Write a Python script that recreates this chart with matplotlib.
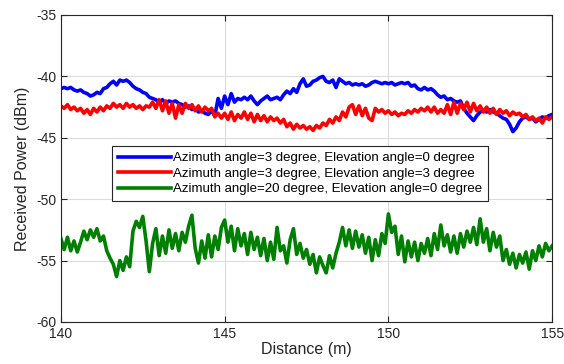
import numpy as np
import matplotlib
matplotlib.use("Agg")
import matplotlib.pyplot as plt

# Received power traces, sampled every 0.1 m from 140 m to 155 m.
az3_el0 = [
    -41.0, -40.9, -41.0, -40.9, -41.1, -41.2, -41.1, -41.3, -41.4, -41.6,
    -41.5, -41.3, -41.4, -41.0, -40.9, -40.6, -40.4, -40.7, -40.3, -40.4,
    -40.3, -40.5, -40.8, -41.0, -41.1, -41.3, -41.4, -41.7, -41.8, -41.9,
    -42.1, -41.9, -42.2, -42.0, -42.1, -42.0, -42.2, -42.3, -42.5, -42.4,
    -42.7, -42.6, -42.9, -42.8, -43.0, -43.1, -42.8, -43.2, -41.8, -42.6,
    -41.6, -42.3, -41.4, -42.1, -41.8, -41.9, -41.7, -41.9, -41.6, -42.0,
    -42.3, -42.0, -41.8, -41.6, -41.9, -41.8, -41.7, -41.9, -41.5, -41.2,
    -41.4, -41.0, -41.3, -40.6, -40.2, -40.8, -40.7, -40.4, -40.3, -40.1,
    -40.0, -40.4, -40.5, -40.3, -40.9, -40.2, -40.4, -40.6, -40.5, -40.7,
    -40.6, -40.7, -40.6, -40.8, -40.7, -40.5, -40.4, -40.5, -40.6, -40.5,
    -40.6, -40.5, -40.7, -40.6, -40.5, -40.6, -40.5, -40.8, -40.7, -41.0,
    -41.1, -40.9, -41.1, -41.0, -41.2, -41.5, -41.7, -41.6, -41.9, -41.8,
    -42.0, -42.1, -42.0, -42.6, -43.0, -43.3, -43.6, -43.2, -42.9, -42.8,
    -42.9, -42.7, -42.9, -43.0, -43.2, -43.4, -43.5, -43.9, -44.5, -44.2,
    -43.7, -43.4, -43.3, -43.5, -43.4, -43.7, -43.5, -43.3, -43.4, -43.2,
    -43.1,
]

az3_el3 = [
    -42.4, -42.6, -42.3, -42.7, -42.5, -42.8, -42.6, -43.0, -42.7, -43.1,
    -42.6, -42.9, -42.5, -42.8, -42.4, -42.6, -42.2, -42.5, -42.3, -42.6,
    -42.2, -42.5, -42.3, -42.6, -42.4, -42.7, -42.4, -42.5, -42.1, -42.6,
    -41.9, -42.8, -42.0, -43.0, -42.2, -43.4, -42.3, -43.0, -42.2, -42.6,
    -42.3, -42.8, -42.4, -42.9, -42.5, -42.8, -42.6, -43.3, -43.0, -43.4,
    -43.0, -43.5, -42.9, -43.6, -43.1, -43.4, -42.9, -43.5, -43.0, -43.7,
    -43.1, -43.6, -43.2, -43.7, -43.3, -43.6, -43.4, -43.8, -43.5, -44.1,
    -43.8, -44.3, -43.9, -44.2, -44.0, -44.3, -44.1, -44.4, -44.0, -44.2,
    -43.8, -44.0, -43.5, -43.8, -43.3, -43.6, -42.9, -43.3, -42.5, -42.3,
    -43.1, -42.4, -43.2, -42.6, -43.4, -43.6, -42.6, -42.9, -42.7, -43.0,
    -42.8, -43.1, -42.9, -43.2, -43.0, -43.1, -42.8, -43.0, -42.7, -42.9,
    -42.6, -42.8, -42.5, -42.9, -42.5, -43.0, -42.7, -43.0, -42.3, -43.1,
    -42.1, -43.0, -42.2, -42.7, -42.1, -42.9, -42.2, -42.8, -42.4, -42.9,
    -42.5, -43.0, -42.6, -43.1, -42.7, -43.0, -42.8, -43.2, -42.9, -43.1,
    -43.0, -43.3, -43.1, -43.5, -43.3, -43.6, -43.4, -43.8, -43.3, -43.5,
    -43.3,
]

az20_el0 = [
    -53.2, -54.1, -53.1, -54.2, -53.4, -54.3, -53.5, -52.6, -53.3, -52.5,
    -53.1, -52.4, -53.4, -53.0, -54.2, -54.8, -55.3, -56.3, -55.0, -55.8,
    -54.7, -55.5, -52.6, -51.8, -52.3, -51.4, -53.4, -55.9, -53.6, -52.4,
    -54.6, -53.0, -54.4, -52.5, -54.0, -52.8, -54.2, -52.7, -53.5, -52.2,
    -51.3, -54.0, -55.2, -53.4, -54.8, -52.9, -54.7, -53.0, -54.1, -52.3,
    -51.7, -53.5, -52.2, -54.2, -52.4, -53.8, -52.8, -54.5, -52.7, -54.1,
    -53.1, -54.6, -53.2, -55.0, -53.5, -54.9, -52.3, -54.2, -53.8, -55.2,
    -53.3, -52.4, -54.5, -53.6, -54.8, -54.1, -55.3, -54.5, -56.0, -54.7,
    -55.4, -56.0, -54.6, -55.6, -54.4, -53.5, -52.3, -53.8, -52.5, -54.0,
    -52.6, -53.9, -52.9, -54.4, -53.1, -55.0, -53.3, -54.6, -52.8, -53.6,
    -51.2, -52.7, -52.2, -54.5, -53.0, -55.1, -53.4, -54.7, -53.5, -55.0,
    -53.6, -54.4, -53.2, -54.6, -52.8, -54.1, -52.1, -53.8, -52.9, -54.3,
    -53.0, -54.4, -52.8, -53.9, -52.6, -53.5, -52.3, -53.7, -51.6, -53.5,
    -52.4, -54.2, -52.7, -53.9, -53.0, -55.0, -54.1, -55.3, -54.4, -55.6,
    -54.5, -55.2, -54.3, -55.7, -54.2, -55.0, -53.8, -54.7, -53.6, -54.2,
    -53.8,
]

series = [
    (az3_el0, "#0000ff", "Azimuth angle=3 degree, Elevation angle=0 degree"),
    (az3_el3, "#ff0000", "Azimuth angle=3 degree, Elevation angle=3 degree"),
    (az20_el0, "#008000", "Azimuth angle=20 degree, Elevation angle=0 degree"),
]

plt.rcParams["font.family"] = ["Liberation Sans", "DejaVu Sans"]
plt.rcParams["axes.unicode_minus"] = False

fig = plt.figure(figsize=(5.64, 3.64), dpi=100)
ax = fig.add_axes([0.108, 0.1154, 0.871, 0.8434])

for vals, color, label in series:
    dist = np.linspace(140, 155, len(vals))
    ax.plot(dist, vals, color=color, linewidth=2.6, label=label)

ax.set_xlim(140, 155)
ax.set_ylim(-60, -35)
ax.set_xticks([140, 145, 150, 155])
ax.set_yticks([-60, -55, -50, -45, -40, -35])
ax.grid(True, color="#dcdcdc", linewidth=0.8)
ax.set_axisbelow(True)
ax.tick_params(direction="in", top=True, right=True, length=4,
               labelsize=10, colors="#262626")
for sp in ax.spines.values():
    sp.set_color("#262626")
    sp.set_linewidth(0.8)

ax.set_xlabel("Distance (m)", fontsize=11.5, color="#262626", labelpad=1)
ax.set_ylabel("Received Power (dBm)", fontsize=11.5, color="#262626", labelpad=4)

leg = ax.legend(loc="upper left", bbox_to_anchor=(0.104, 0.573),
                borderaxespad=0, fontsize=9.5, fancybox=False, framealpha=1,
                edgecolor="#262626", handlelength=4.0, handletextpad=0.2,
                labelspacing=0.25, borderpad=0.45)
leg.get_frame().set_linewidth(0.8)
for line in leg.get_lines():
    line.set_linewidth(2.6)

fig.savefig("out.png", dpi=100)
